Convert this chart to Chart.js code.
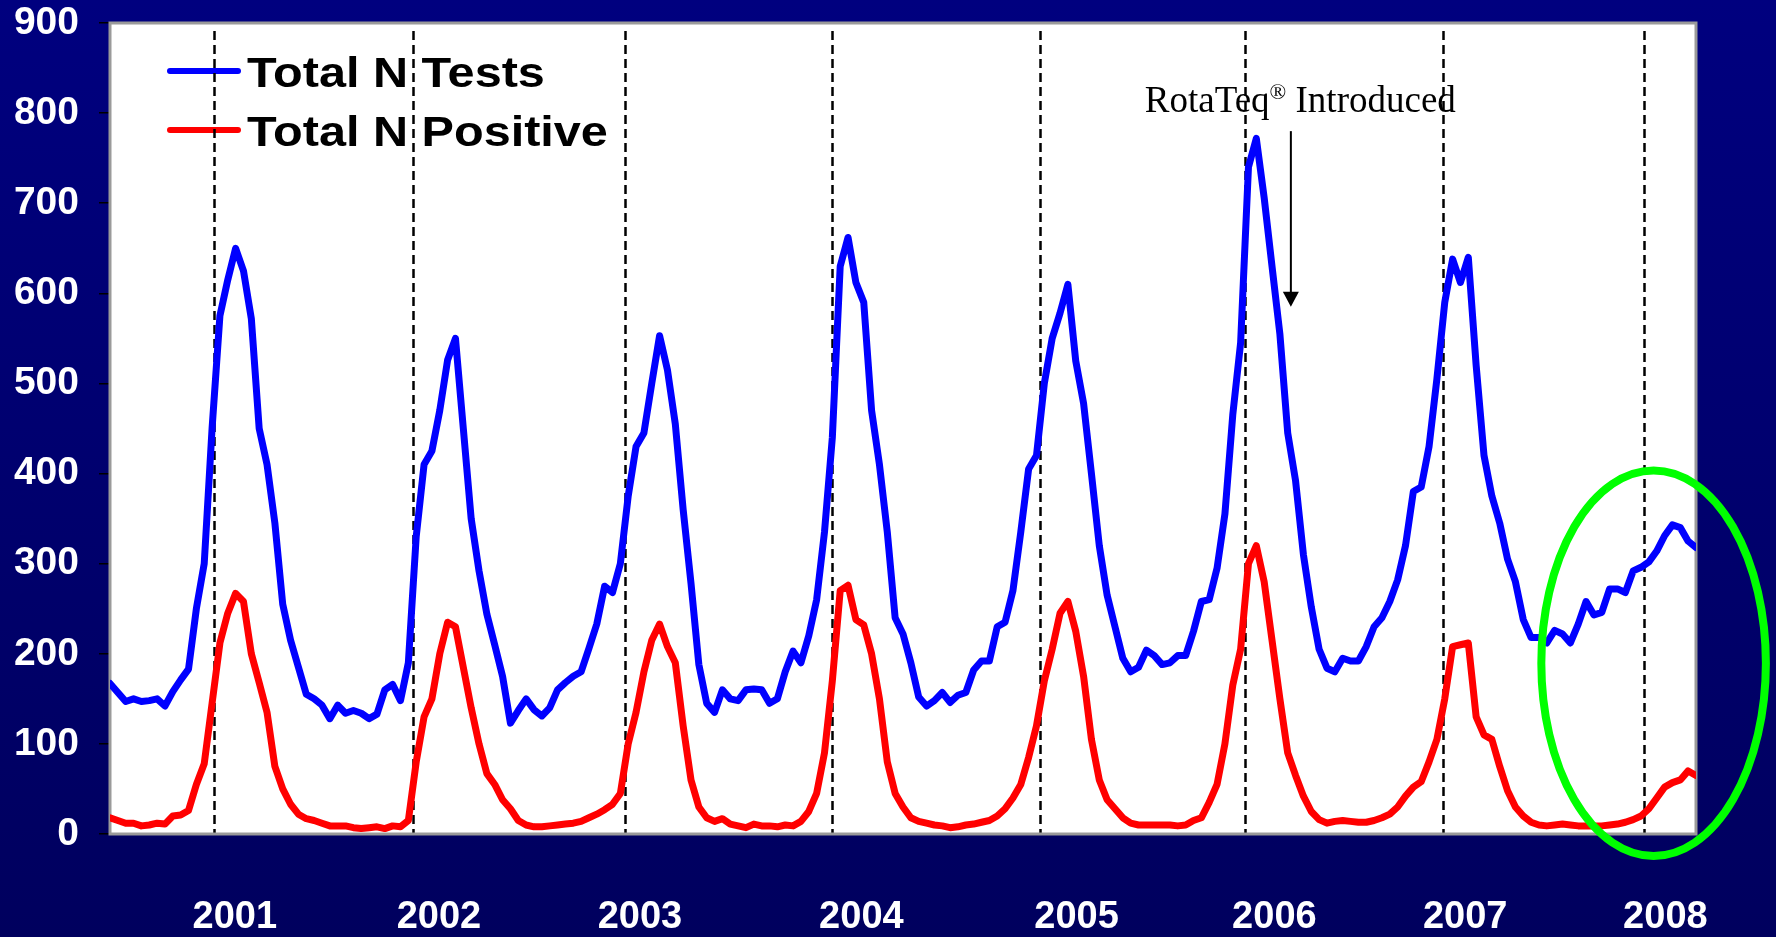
<!DOCTYPE html>
<html>
<head>
<meta charset="utf-8">
<title>Total N Tests / Total N Positive</title>
<script src="https://cdn.jsdelivr.net/npm/chart.js@4.4.1/dist/chart.umd.min.js"></script>
<style>
  html, body { margin: 0; padding: 0; background: #000070; }
  #wrap { width: 1776px; height: 937px; }
</style>
</head>
<body>
<div id="wrap"><canvas id="chart" width="1776" height="937"></canvas></div>
<script>
// =========================
// DATA (one value every two weeks, mid 2000 -> early 2008)
// =========================
const totalTests = [
  167, 157, 147, 150, 147, 148, 150, 142, 158, 171, 183, 250, 300, 450, 575, 615, 650, 625, 572, 450,
  410, 345, 255, 215, 185, 155, 150, 143, 128, 143, 134, 137, 134, 128, 133,
  160, 166, 148, 190, 330, 410, 425, 470, 526, 550, 450, 350, 292, 244, 210, 175, 123, 137, 150, 138,
  131, 140, 160, 168, 175, 180, 206, 233, 275, 268, 300, 375, 430,
  445, 500, 553, 515, 455, 360, 278, 188, 145, 135, 160, 150, 148, 160, 161, 160, 145, 150, 180, 203,
  190, 220, 260, 335, 440, 630, 662, 612, 590, 470, 410, 335, 240, 222,
  190, 152, 142, 148, 157, 146, 154, 157, 182, 192, 192, 230, 235, 270, 335, 405, 420, 500, 550, 578,
  610, 525, 478, 400, 320, 265, 230, 195, 180, 185, 204, 198, 188, 190,
  198, 198, 225, 258, 260, 295, 355, 465, 545, 740, 772, 706, 630, 555, 445, 392, 310, 252, 205, 184,
  180, 195, 192, 192, 208, 230, 240, 258, 282, 320, 380, 385, 430,
  505, 590, 638, 612, 640, 520, 420, 375, 345, 305, 280, 238, 218, 218, 212, 226, 222, 212, 233, 258,
  243, 246, 272, 272, 268, 292, 296, 302, 314, 331, 343, 340, 325, 318
];
const totalPositive = [
  18, 15, 12, 12, 9, 10, 12, 11, 20, 21, 26, 55, 78, 145, 212, 245, 267, 258, 200, 168,
  135, 75, 50, 33, 22, 17, 15, 12, 9, 9, 9, 7, 6, 7, 8,
  6, 9, 8, 15, 80, 130, 150, 200, 235, 230, 185, 140, 100, 67, 55, 38, 28, 15, 10, 8,
  8, 9, 10, 11, 12, 14, 18, 22, 27, 33, 45, 100, 135,
  180, 215, 233, 208, 190, 120, 60, 30, 18, 14, 17, 11, 9, 7, 11, 9, 9, 8, 10, 9,
  14, 25, 45, 90, 170, 270, 276, 238, 232, 200, 150, 80, 45, 30,
  18, 14, 12, 10, 9, 7, 8, 10, 11, 13, 15, 20, 28, 40, 55, 85, 120, 170, 205, 245,
  258, 225, 175, 105, 60, 38, 28, 18, 12, 10, 10, 10, 10, 10,
  9, 10, 15, 18, 35, 55, 100, 165, 205, 300, 320, 280, 215, 150, 90, 65, 42, 25, 16, 12,
  14, 15, 14, 13, 13, 15, 18, 22, 30, 42, 52, 58, 80,
  105, 150, 208, 210, 212, 130, 110, 105, 75, 48, 30, 20, 13, 10, 9, 10, 11, 10, 9, 9,
  9, 9, 10, 11, 13, 16, 20, 28, 40, 52, 57, 60, 70, 65
];
const seriesLabels = ["Total N Tests", "Total N Positive"];
const seriesColors = ["#0000ff", "#ff0000"];

const yTickValues = [0, 100, 200, 300, 400, 500, 600, 700, 800, 900];
const yearLabels = ["2001", "2002", "2003", "2004", "2005", "2006", "2007", "2008"];
const yearLabelPos = [15.9, 41.9, 67.5, 95.7, 123.1, 148.3, 172.6, 198.1];
const yearLinePos = [13.2, 38.6, 65.6, 92.0, 118.5, 144.5, 169.8, 195.4];

// annotation, in data units
const noteParts = ["RotaTeq", "\u00ae", " Introduced"];
const noteAt = { x: 151.6, y: 801 };
const arrowAt = { x: 150.4, from: 780, to: 585 };
const ringAt = { x: 196.6, y: 189.5, rx: 14.3, ry: 214 };

const SANS = "'Liberation Sans', Arial, Helvetica, sans-serif";
const SERIF = "'Liberation Serif', 'Times New Roman', serif";

// =========================
// Custom drawing
// =========================
const decorPlugin = {
  id: "decor",
  beforeDraw(chart) {
    const { ctx, width, height, chartArea: a } = chart;
    const g = ctx.createLinearGradient(0, 0, 0, height);
    g.addColorStop(0, "#00007f");
    g.addColorStop(1, "#00005e");
    ctx.save();
    ctx.fillStyle = g;
    ctx.fillRect(0, 0, width, height);
    ctx.fillStyle = "#ffffff";
    ctx.fillRect(a.left, a.top, a.right - a.left, a.bottom - a.top);
    ctx.restore();
  },
  beforeDatasetsDraw(chart) {
    const { ctx, chartArea: a, scales: { x, y } } = chart;
    ctx.save();

    // legend inside the plot
    chart.data.datasets.forEach((ds, i) => {
      const ly = a.top + 48 + i * 59;
      ctx.strokeStyle = ds.borderColor;
      ctx.lineWidth = 6;
      ctx.lineCap = "round";
      ctx.beginPath();
      ctx.moveTo(a.left + 60, ly);
      ctx.lineTo(a.left + 128, ly);
      ctx.stroke();
      ctx.save();
      ctx.translate(a.left + 137, ly + 16);
      ctx.scale(1.13, 1);
      ctx.fillStyle = "#000";
      ctx.font = "bold 43px " + SANS;
      ctx.textBaseline = "alphabetic";
      ctx.fillText(ds.label, 0, 0);
      ctx.restore();
    });

    // RotaTeq note + arrow
    const big = "37px " + SERIF, small = "22px " + SERIF;
    ctx.font = big;
    const w0 = ctx.measureText(noteParts[0]).width;
    const w2 = ctx.measureText(noteParts[2]).width;
    ctx.font = small;
    const w1 = ctx.measureText(noteParts[1]).width;
    let tx = x.getPixelForValue(noteAt.x) - (w0 + w1 + w2) / 2;
    const ty = y.getPixelForValue(noteAt.y);
    ctx.fillStyle = "#000";
    ctx.textBaseline = "alphabetic";
    ctx.font = big;
    ctx.fillText(noteParts[0], tx, ty);
    tx += w0;
    ctx.font = small;
    ctx.fillText(noteParts[1], tx, ty - 13);
    tx += w1;
    ctx.font = big;
    ctx.fillText(noteParts[2], tx, ty);

    const ax = x.getPixelForValue(arrowAt.x);
    const ay0 = y.getPixelForValue(arrowAt.from);
    const ay1 = y.getPixelForValue(arrowAt.to);
    ctx.strokeStyle = "#000";
    ctx.lineWidth = 2;
    ctx.lineCap = "butt";
    ctx.beginPath();
    ctx.moveTo(ax, ay0);
    ctx.lineTo(ax, ay1 - 12);
    ctx.stroke();
    ctx.beginPath();
    ctx.moveTo(ax - 8, ay1 - 15);
    ctx.lineTo(ax + 8, ay1 - 15);
    ctx.lineTo(ax, ay1);
    ctx.closePath();
    ctx.fill();

    // dashed year lines
    ctx.setLineDash([9, 5]);
    ctx.lineWidth = 2.5;
    yearLinePos.forEach(v => {
      const px = Math.round(x.getPixelForValue(v)) + 0.5;
      ctx.beginPath();
      ctx.moveTo(px, a.top + 8);
      ctx.lineTo(px, a.bottom);
      ctx.stroke();
    });
    ctx.setLineDash([]);

    // plot frame
    ctx.strokeStyle = "#9a9a9a";
    ctx.lineWidth = 3;
    ctx.strokeRect(a.left, a.top, a.right - a.left, a.bottom - a.top);
    ctx.restore();
  },
  afterDraw(chart) {
    const { ctx, scales: { x, y } } = chart;
    const cx = x.getPixelForValue(ringAt.x);
    const cy = y.getPixelForValue(ringAt.y);
    const rx = x.getPixelForValue(ringAt.x + ringAt.rx) - cx;
    const ry = cy - y.getPixelForValue(ringAt.y + ringAt.ry);
    ctx.save();
    ctx.strokeStyle = "#00ff00";
    ctx.lineWidth = 8;
    ctx.beginPath();
    ctx.ellipse(cx, cy, rx, ry, 0, 0, Math.PI * 2);
    ctx.stroke();
    ctx.restore();
  }
};

// =========================
// Chart
// =========================
const ctx = document.getElementById("chart").getContext("2d");

new Chart(ctx, {
  type: "line",
  data: {
    datasets: [totalTests, totalPositive].map((vals, i) => ({
      label: seriesLabels[i],
      data: vals.map((v, k) => ({ x: k, y: v })),
      borderColor: seriesColors[i],
      borderWidth: 7,
      borderJoinStyle: "round",
      borderCapStyle: "round",
      pointRadius: 0,
      tension: 0,
      fill: false
    }))
  },
  options: {
    responsive: false,
    animation: false,
    layout: { padding: { top: 23, right: 80, left: 0, bottom: 0 } },
    plugins: {
      legend: { display: false },
      tooltip: { enabled: false }
    },
    scales: {
      x: {
        type: "linear",
        min: 0,
        max: totalTests.length - 1,
        afterBuildTicks: axis => { axis.ticks = yearLabelPos.map(v => ({ value: v })); },
        afterFit: axis => { axis.height = 103; axis.paddingLeft = 0; axis.paddingRight = 0; },
        grid: { display: false, drawTicks: false },
        border: { display: false },
        ticks: {
          autoSkip: false,
          maxRotation: 0,
          minRotation: 0,
          padding: 61,
          color: "#ffffff",
          font: { family: SANS, size: 38, weight: "bold" },
          callback: (v, i) => yearLabels[i]
        }
      },
      y: {
        min: 0,
        max: 900,
        afterBuildTicks: axis => { axis.ticks = yTickValues.map(v => ({ value: v })); },
        afterFit: axis => { axis.width = 110; axis.paddingTop = 0; axis.paddingBottom = 0; },
        grid: { drawOnChartArea: false, drawTicks: true, tickLength: 11, color: "#000000", lineWidth: 1.5 },
        border: { display: false },
        ticks: {
          padding: 20,
          color: "#ffffff",
          font: { family: SANS, size: 39, weight: "bold" }
        }
      }
    }
  },
  plugins: [decorPlugin]
});
</script>
</body>
</html>
